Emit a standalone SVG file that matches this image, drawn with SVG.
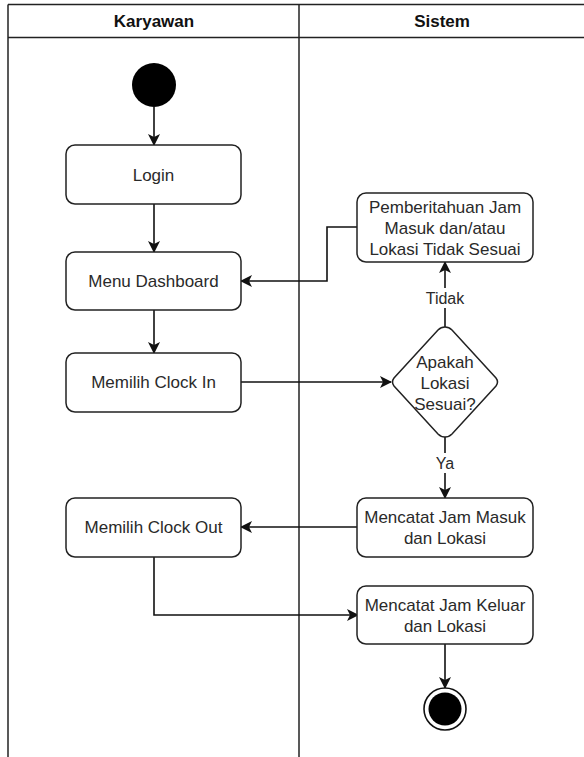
<svg xmlns="http://www.w3.org/2000/svg" width="584" height="757" viewBox="0 0 584 757">
<style>
.lane{fill:none;stroke:#222;stroke-width:1.5}
.box{fill:#fff;stroke:#222;stroke-width:1.5}
.t{font-family:"Liberation Sans",Arial,sans-serif;font-size:17px;fill:#2a2a2a;text-anchor:middle;dominant-baseline:central}
.h{font-family:"Liberation Sans",Arial,sans-serif;font-size:17px;font-weight:bold;fill:#111;text-anchor:middle;dominant-baseline:central}
.lbl{font-family:"Liberation Sans",Arial,sans-serif;font-size:16px;fill:#2a2a2a;text-anchor:middle;dominant-baseline:central}
.c{fill:none;stroke:#111;stroke-width:1.6}
</style>
<defs>
<marker id="arr" viewBox="0 0 12 12" refX="11" refY="6" markerWidth="12" markerHeight="12" markerUnits="userSpaceOnUse" orient="auto">
<path d="M0,0 L12,6 L0,12 L3,6 Z" fill="#111"/>
</marker>
</defs>
<rect width="584" height="757" fill="#fff"/>
<g id="lanes">
<line class="lane" x1="8" y1="4.5" x2="584" y2="4.5"/>
<line class="lane" x1="8" y1="37.5" x2="584" y2="37.5"/>
<line class="lane" x1="8" y1="4.5" x2="8" y2="757"/>
<line class="lane" x1="299" y1="4.5" x2="299" y2="757"/>
<text class="h" x="154" y="21">Karyawan</text>
<text class="h" x="442" y="21">Sistem</text>
</g>
<g id="connectors">
<line class="c" x1="154" y1="107" x2="154" y2="145" marker-end="url(#arr)"/>
<line class="c" x1="154" y1="204" x2="154" y2="252" marker-end="url(#arr)"/>
<line class="c" x1="154" y1="310" x2="154" y2="353" marker-end="url(#arr)"/>
<line class="c" x1="241" y1="382" x2="391" y2="382" marker-end="url(#arr)"/>
<polyline class="c" points="445,327 445,262" marker-end="url(#arr)"/>
<polyline class="c" points="357,227 327,227 327,281 241,281" marker-end="url(#arr)"/>
<line class="c" x1="445" y1="437" x2="445" y2="498" marker-end="url(#arr)"/>
<line class="c" x1="357" y1="527" x2="241" y2="527" marker-end="url(#arr)"/>
<polyline class="c" points="154,557 154,615 358,615" marker-end="url(#arr)"/>
<line class="c" x1="445" y1="644" x2="445" y2="688" marker-end="url(#arr)"/>
<rect x="426" y="288" width="38" height="20" fill="#fff"/>
<text class="lbl" x="445" y="298">Tidak</text>
<rect x="433" y="453" width="24" height="20" fill="#fff"/>
<text class="lbl" x="445" y="463">Ya</text>
</g>
<g id="start"><circle cx="154" cy="85" r="22" fill="#000"/></g>
<g id="login"><rect class="box" x="66" y="145" width="175" height="59" rx="9"/><text class="t" x="153.5" y="175">Login</text></g>
<g id="menu"><rect class="box" x="66" y="252" width="175" height="58" rx="9"/><text class="t" x="153.5" y="281">Menu Dashboard</text></g>
<g id="clockin"><rect class="box" x="66" y="353" width="175" height="59" rx="9"/><text class="t" x="153.5" y="382">Memilih Clock In</text></g>
<g id="clockout"><rect class="box" x="66" y="498" width="175" height="59" rx="9"/><text class="t" x="153.5" y="527">Memilih Clock Out</text></g>
<g id="notif"><rect class="box" x="357" y="193" width="176" height="69" rx="9"/>
<text class="t" x="445" y="207">Pemberitahuan Jam</text>
<text class="t" x="445" y="228">Masuk dan/atau</text>
<text class="t" x="445" y="249">Lokasi Tidak Sesuai</text></g>
<g id="decision"><path class="box" d="M445,327 Q449,327 452,330 L496,378 Q499,382 496,386 L452,434 Q449,437 445,437 Q441,437 438,434 L394,386 Q391,382 394,378 L438,330 Q441,327 445,327 Z"/>
<text class="t" x="445" y="362">Apakah</text>
<text class="t" x="445" y="383">Lokasi</text>
<text class="t" x="445" y="404">Sesuai?</text></g>
<g id="masuk"><rect class="box" x="357" y="498" width="176" height="59" rx="9"/>
<text class="t" x="445" y="517">Mencatat Jam Masuk</text>
<text class="t" x="445" y="538">dan Lokasi</text></g>
<g id="keluar"><rect class="box" x="357" y="586" width="176" height="58" rx="9"/>
<text class="t" x="445" y="605">Mencatat Jam Keluar</text>
<text class="t" x="445" y="626">dan Lokasi</text></g>
<g id="end"><circle cx="445" cy="709" r="21" fill="#fff" stroke="#111" stroke-width="1.6"/><circle cx="445" cy="709" r="16.5" fill="#000"/></g>
</svg>
